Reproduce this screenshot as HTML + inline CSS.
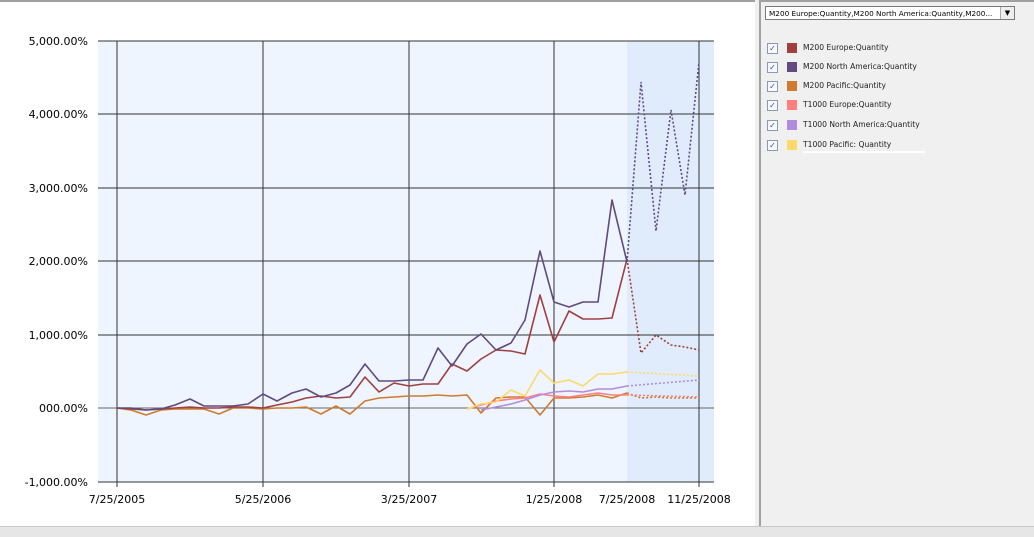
<!DOCTYPE html>
<html><head><style>
body{margin:0;width:1034px;height:536px;overflow:hidden;background:#f0f0f0;font-family:"DejaVu Sans",Verdana,sans-serif;position:relative}
#chart{position:absolute;left:0;top:0;width:755px;height:526px;background:#fff;border-top:2px solid #a0a0a0;box-sizing:border-box}
#panel{position:absolute;left:759px;top:0;width:275px;height:526px;background:#f0f0f0;border-left:2px solid #a0a0a0;border-top:2px solid #a0a0a0;box-sizing:border-box}
#bottom{position:absolute;left:0;top:526px;width:1034px;height:10px;background:#e6e6e6;border-top:1px solid #c8c8c8}
.sel{position:absolute;left:4px;top:4px;width:250px;height:14px;border:1px solid #7a7a7a;background:#fff;font-size:7.3px;line-height:13px;padding-left:3px;box-sizing:border-box;white-space:nowrap;overflow:hidden}
.arr{position:absolute;right:0;top:0;width:13px;height:12px;background:#eee;border-left:1px solid #aaa;font-size:7px;text-align:center}
.it{position:absolute;left:6px;height:12px;font-size:7.6px;color:#222;line-height:12px}
.cb{position:absolute;left:0;top:1px;width:9px;height:9px;border:1px solid #8a9ab0;background:#f8f8ff;font-size:8px;line-height:9px;color:#3050a0;text-align:center}
.sw{position:absolute;left:20px;top:1px;width:10px;height:10px}
.lb{position:absolute;left:36px;top:0;white-space:nowrap}
</style></head><body>
<div id="chart">
<svg width="754" height="524" style="position:absolute;left:0;top:-2px" font-family="DejaVu Sans,Verdana,sans-serif" font-size="11">
<rect x="98" y="41" width="529" height="441" fill="#eef5fe"/>
<rect x="627" y="41" width="87" height="441" fill="#e0ecfc"/>
<g stroke="#333" stroke-width="1">
<line x1="98" y1="41" x2="714" y2="41"/><line x1="98" y1="114" x2="714" y2="114"/><line x1="98" y1="188" x2="714" y2="188"/><line x1="98" y1="261" x2="714" y2="261"/><line x1="98" y1="335" x2="714" y2="335"/><line x1="98" y1="408" x2="714" y2="408" stroke="#666"/><line x1="98" y1="482" x2="714" y2="482"/>
<line x1="117" y1="41" x2="117" y2="487"/><line x1="263" y1="41" x2="263" y2="487"/><line x1="409" y1="41" x2="409" y2="487"/><line x1="554" y1="41" x2="554" y2="487"/><line x1="699" y1="41" x2="699" y2="487"/>
</g>
<g text-anchor="end" fill="#000">
<text x="88" y="45">5,000.00%</text><text x="88" y="118">4,000.00%</text><text x="88" y="192">3,000.00%</text><text x="88" y="265">2,000.00%</text><text x="88" y="339">1,000.00%</text><text x="88" y="412">000.00%</text><text x="88" y="486">-1,000.00%</text>
</g>
<g text-anchor="middle" fill="#000">
<text x="117" y="503">7/25/2005</text><text x="263" y="503">5/25/2006</text><text x="409" y="503">3/25/2007</text><text x="554" y="503">1/25/2008</text><text x="627" y="503">7/25/2008</text><text x="699" y="503">11/25/2008</text>
</g>
<g fill="none" stroke-width="1.6" stroke-linejoin="round">
<polyline stroke="#d07a30" points="117,408 131,410 146,415 161,410 175,409 190,409 204,409 219,414 233,408 248,408 263,409 277,408 292,408 306,407 321,414 336,406 350,414 365,401 379,398 394,397 409,396 423,396 438,395 452,396 467,395 481,413 496,398 511,397 525,397 540,415 554,398 569,398 583,397 598,395 612,398 627,393"/>
<polyline stroke="#ff7f7f" points="467,409 481,405 496,401 511,399 525,398 540,394 554,396 569,397 583,395 598,393 612,395 627,395"/>
<polyline stroke="#b08ce0" points="481,410 496,407 511,404 525,400 540,395 554,392 569,391 583,392 598,389 612,389 627,386"/>
<polyline stroke="#ffd86a" points="467,409 481,404 496,402 511,390 525,396 540,370 554,383 569,380 583,386 598,374 612,374 627,372"/>
<polyline stroke="#a04040" points="117,408 131,409 146,410 161,409 175,408 190,407 204,408 219,408 233,407 248,407 263,408 277,405 292,402 306,398 321,396 336,398 350,397 365,377 379,392 394,383 409,386 423,384 438,384 452,364 467,371 481,359 496,350 511,351 525,354 540,295 554,342 569,311 583,319 598,319 612,318 627,259"/>
<polyline stroke="#614a7f" points="117,408 131,408 146,410 161,409 175,405 190,399 204,406 219,406 233,406 248,404 263,394 277,401 292,393 306,389 321,397 336,393 350,385 365,364 379,381 394,381 409,380 423,380 438,348 452,366 467,344 481,334 496,350 511,343 525,320 540,251 554,302 569,307 583,302 598,302 612,200 627,262"/>
</g>
<g fill="none" stroke-width="1.6" stroke-dasharray="2,2">
<polyline stroke="#d07a30" points="627,393 641,398 656,397 671,398 685,398 699,398"/>
<polyline stroke="#ff7f7f" points="627,395 699,397"/>
<polyline stroke="#b08ce0" points="627,386 699,380"/>
<polyline stroke="#ffd86a" points="627,372 699,376"/>
<polyline stroke="#a04040" points="627,259 641,353 656,335 671,345 685,347 699,350"/>
<polyline stroke="#614a7f" points="627,262 641,82 656,231 671,110 685,195 699,62"/>
</g>
</svg>
</div>
<div id="panel">
<div class="sel">M200 Europe:Quantity,M200 North America:Quantity,M200...<div class="arr">▼</div></div>
<div class="it" style="top:40px"><div class="cb">✓</div><div class="sw" style="background:#a04040"></div><div class="lb">M200 Europe:Quantity</div></div>
<div class="it" style="top:59px"><div class="cb">✓</div><div class="sw" style="background:#614a7f"></div><div class="lb">M200 North America:Quantity</div></div>
<div class="it" style="top:78px"><div class="cb">✓</div><div class="sw" style="background:#d07a30"></div><div class="lb">M200 Pacific:Quantity</div></div>
<div class="it" style="top:97px"><div class="cb">✓</div><div class="sw" style="background:#ff7f7f"></div><div class="lb">T1000 Europe:Quantity</div></div>
<div class="it" style="top:117px"><div class="cb">✓</div><div class="sw" style="background:#b08ce0"></div><div class="lb">T1000 North America:Quantity</div></div>
<div class="it" style="top:137px"><div class="cb">✓</div><div class="sw" style="background:#ffd86a"></div><div class="lb">T1000 Pacific: Quantity</div></div>
<div style="position:absolute;left:42px;top:149px;width:122px;height:2px;background:#fff"></div>
</div>
<div id="bottom"></div>
</body></html>
